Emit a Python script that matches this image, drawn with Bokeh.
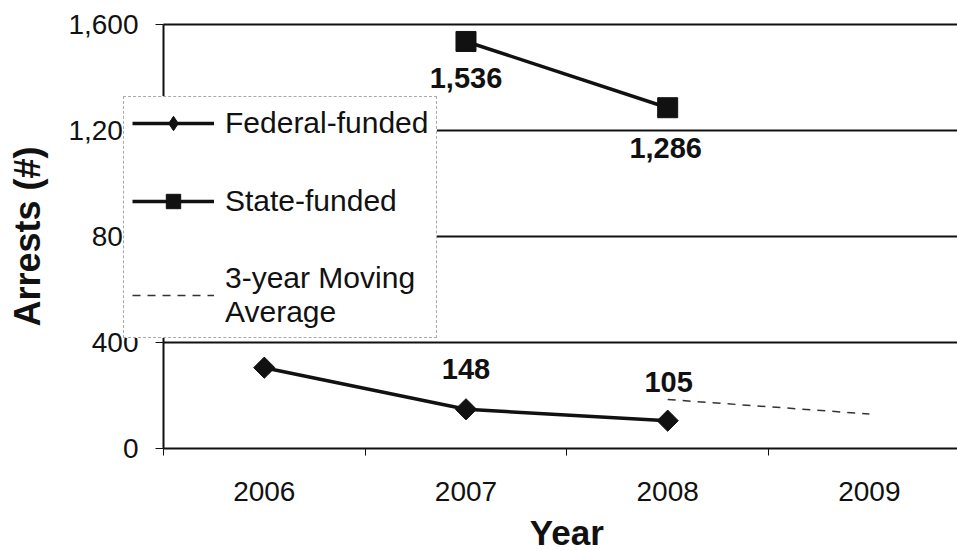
import numpy as np
from bokeh.plotting import figure
from bokeh.models import (Range1d, FixedTicker, Legend, LegendItem, ColumnDataSource,
                          NumeralTickFormatter, Label)
from bokeh.core.properties import value
from bokeh.embed import file_html
from bokeh.resources import INLINE

# ---- data ----
years = ["2006", "2007", "2008", "2009"]
federal_years = ["2006", "2007", "2008"]
federal = [305, 148, 105]
state_years = ["2007", "2008"]
state = [1536, 1286]
ma_years = ["2008", "2009"]
moving_avg = [185, 130]
y_ticks = [0, 400, 800, 1200, 1600]
federal_label_years = ["2007", "2008"]
federal_labels = [148, 105]

pos = {y: i for i, y in enumerate(years)}

FONT = "Liberation Sans"
INK = "#111111"

X0 = pos[years[0]] - 0.5              # left edge of the category axis
X_START, X_END = -1.308, 3.437        # frame covers the whole canvas; axes are pinned
Y_START, Y_END = -388.7, 1690.6
Y_TOP = y_ticks[-1]

p = figure(width=957, height=551, output_backend="svg", toolbar_location=None,
           x_range=Range1d(X_START, X_END), y_range=Range1d(Y_START, Y_END),
           min_border_left=0, min_border_right=0, min_border_top=0,
           min_border_bottom=0)
p.outline_line_color = None
p.background_fill_color = "white"
p.border_fill_color = "white"

# horizontal grid lines from the category axis edge only
p.xgrid.grid_line_color = None
p.ygrid.grid_line_color = None
gy = y_ticks[1:]
p.segment(x0=[X0] * len(gy), x1=[X_END] * len(gy), y0=gy, y1=gy,
          line_color=INK, line_width=1.8)

# x axis, pinned at y = 0
xa = p.xaxis[0]
xa.fixed_location = 0
xa.bounds = (X0, X_END)
xa.ticker = FixedTicker(ticks=[pos[y] for y in years],
                        minor_ticks=[pos[y] - 0.5 for y in years[:-1]] + [pos[years[-2]] + 0.5])
xa.major_label_overrides = {pos[y]: y for y in years}
xa.major_tick_out = 0
xa.major_tick_in = 0
xa.minor_tick_out = 7
xa.minor_tick_in = 0
xa.minor_tick_line_color = INK
xa.axis_line_color = INK
xa.axis_line_width = 2
xa.major_label_text_font = FONT
xa.major_label_text_font_size = "28px"
xa.major_label_text_color = INK
xa.major_label_standoff = 27

# y axis, pinned at the category axis edge
ya = p.yaxis[0]
ya.fixed_location = X0
ya.bounds = (0, Y_TOP)
ya.ticker = FixedTicker(ticks=y_ticks)
ya.formatter = NumeralTickFormatter(format="0,0")
ya.major_tick_out = 8
ya.major_tick_in = 0
ya.minor_tick_out = 0
ya.minor_tick_in = 0
ya.major_tick_line_color = INK
ya.axis_line_color = INK
ya.axis_line_width = 2
ya.major_label_text_font = FONT
ya.major_label_text_font_size = "28px"
ya.major_label_text_color = INK
ya.major_label_standoff = 17

# axis titles
p.add_layout(Label(x=(pos[years[0]] + pos[years[-1]]) / 2, y=0, y_offset=-84,
                   text="Year", text_align="center", text_baseline="middle",
                   text_font=FONT, text_font_size="35px", text_font_style="bold",
                   text_color=INK))
p.add_layout(Label(x=X0, y=Y_TOP / 2, x_offset=-136, angle=np.pi / 2,
                   text="Arrests (#)", text_align="center", text_baseline="middle",
                   text_font=FONT, text_font_size="36px", text_font_style="bold",
                   text_color=INK))

# series
fx = [pos[y] for y in federal_years]
sx = [pos[y] for y in state_years]
mx = [pos[y] for y in ma_years]

fl = p.line(fx, federal, line_color=INK, line_width=3.5)
fm_key = p.scatter(fx, federal, marker="diamond", size=18, fill_color=INK, line_color=INK)
fm = p.scatter(fx, federal, marker="square", angle=np.pi / 4, size=15,
               fill_color=INK, line_color=INK)
sl = p.line(sx, state, line_color=INK, line_width=3.5)
sm = p.scatter(sx, state, marker="square", size=20, fill_color=INK, line_color=INK)
ml = p.line(mx, moving_avg, line_color="#333333", line_width=1.5, line_dash="8 7")

# data labels
state_src = ColumnDataSource(dict(x=sx, y=state, t=[f"{v:,}" for v in state],
                                  dx=[0, -2], dy=[37, 40]))
p.text(x="x", y="y", text="t", source=state_src, x_offset="dx", y_offset="dy",
       text_align="center", text_baseline="middle", text_font=value(FONT),
       text_font_size="29px", text_font_style="bold", text_color=INK)
fed_src = ColumnDataSource(dict(x=[pos[y] for y in federal_label_years], y=federal_labels,
                                t=[f"{v:,}" for v in federal_labels],
                                dx=[0, 1], dy=[-40, -39]))
p.text(x="x", y="y", text="t", source=fed_src, x_offset="dx", y_offset="dy",
       text_align="center", text_baseline="middle", text_font=value(FONT),
       text_font_size="29px", text_font_style="bold", text_color=INK)

legend = Legend(items=[
    LegendItem(label="Federal-funded", renderers=[fl, fm_key]),
    LegendItem(label="State-funded", renderers=[sl, sm]),
    LegendItem(label="3-year Moving\nAverage", renderers=[ml]),
], location=(123, 213))
legend.label_text_font = FONT
legend.label_text_font_size = "30px"
legend.label_text_color = INK
legend.glyph_width = 82
legend.glyph_height = 36
legend.label_height = 36
legend.spacing = 42
legend.padding = 8
legend.margin = 0
legend.label_standoff = 11
legend.border_line_color = "#555555"
legend.border_line_width = 1
legend.border_line_dash = "2 1"
legend.background_fill_color = "white"
legend.background_fill_alpha = 1.0
p.add_layout(legend, "center")

open("out.html", "w").write(file_html(p, INLINE))
